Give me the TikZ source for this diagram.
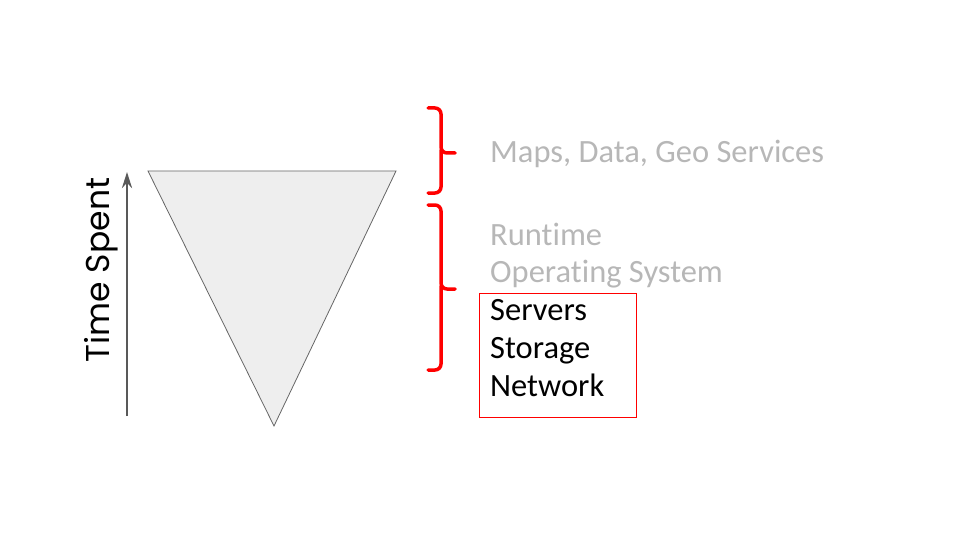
\documentclass[tikz,border=0pt]{standalone}
\usepackage{fontspec}
\setmainfont[Ligatures=NoCommon,RawFeature={-liga;-calt;-dlig}]{Carlito}
\newfontfamily\titlefont{Poppins}
\usetikzlibrary{arrows.meta}
\definecolor{lightgraytext}{HTML}{B7B7B7}
\definecolor{arrowgray}{HTML}{595959}
\definecolor{trifill}{HTML}{EEEEEE}
\definecolor{redbrace}{HTML}{FF0000}
\tikzset{
  graytext/.style={anchor=base west, inner sep=0pt, text=lightgraytext, font=\fontsize{32.5}{38}\selectfont},
  blacktext/.style={anchor=base west, inner sep=0pt, text=black, font=\fontsize{32.5}{38}\selectfont},
  bracepath/.style={draw=redbrace, line width=3.5pt, rounded corners=6pt, line cap=round},
}
\begin{document}
\begin{tikzpicture}[x=1pt,y=-1pt]
\useasboundingbox (0,0) rectangle (960,540);
% triangle
\draw[fill=trifill, draw=black!60, line width=0.8pt] (148,171) -- (396,171) -- (274,426) -- cycle;
% arrow
\coordinate (abot) at (127,416);
\coordinate (atop) at (127,172);
\draw[arrowgray, line width=2.8pt, -{Stealth[length=16pt,width=10pt]}] (abot) -- (atop);
\node[rotate=90, inner sep=0pt, font=\titlefont\fontsize{33}{38}\selectfont] (ts) at (101,270) {Time Spent};
% braces
\draw[bracepath] (428,108) -- (441,108) -- (441,153) -- (455,153);
\draw[bracepath] (441,150) -- (441,193) -- (428,193);
\draw[bracepath] (428,205) -- (441,205) -- (441,289) -- (455,289);
\draw[bracepath] (441,286) -- (441,370) -- (428,370);
% texts
\node[graytext] (maps) at (490,163) {Maps, Data, Geo Services};
\node[graytext] (rt) at (490,245) {Runt\kern0pt ime};
\node[graytext] (os) at (490,282) {Operat\kern0pt ing System};
\node[blacktext] (sv) at (490,320) {Servers};
\node[blacktext] (st) at (490,358) {Storage};
\node[blacktext] (nw) at (490,396) {Network};
\node[draw=redbrace, line width=1pt, minimum width=157pt, minimum height=124pt, anchor=north west, inner sep=0pt] (box) at (479,293) {};
\end{tikzpicture}
\end{document}
